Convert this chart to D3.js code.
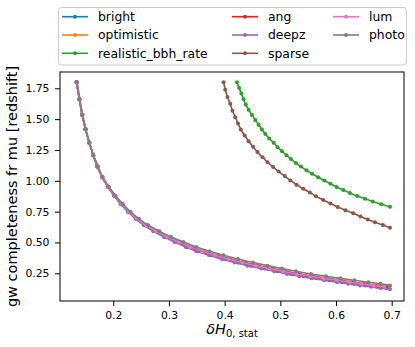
<!DOCTYPE html>
<html lang="en">
<head>
<meta charset="UTF-8">
<script src="https://cdn.jsdelivr.net/npm/d3@7"></script>
<title>gw completeness vs dH0</title>
<style>
    body { margin: 0; background: #fff; }
    svg { font-family: "DejaVu Sans", sans-serif; }
    .tick line { stroke: #000; stroke-width: 1; }
    .tick text { fill: #000; font-size: 10.8px; }
</style>
</head>
<body>
<svg id="chart" width="415" height="347"></svg>
<script>
    // redshift grid shared by the six overlapping series
    var bundleZ = [1.800, 1.662, 1.535, 1.417, 1.309, 1.208, 1.116, 1.030, 0.951, 0.878, 0.811, 0.749,
        0.692, 0.639, 0.590, 0.544, 0.503, 0.464, 0.429, 0.396, 0.365, 0.337, 0.312, 0.288,
        0.266, 0.245, 0.226, 0.209, 0.193, 0.178, 0.165, 0.152, 0.140, 0.130, 0.120];

    var brightX = [0.134, 0.139, 0.144, 0.150, 0.157, 0.164, 0.171, 0.180, 0.190, 0.202, 0.214, 0.227,
        0.241, 0.257, 0.274, 0.294, 0.313, 0.333, 0.353, 0.376, 0.400, 0.424, 0.447, 0.472,
        0.495, 0.519, 0.542, 0.565, 0.588, 0.611, 0.632, 0.653, 0.673, 0.690];
    var optimisticX = [0.134, 0.139, 0.144, 0.150, 0.157, 0.164, 0.172, 0.180, 0.191, 0.203, 0.216, 0.229,
        0.244, 0.260, 0.279, 0.299, 0.319, 0.341, 0.363, 0.387, 0.411, 0.437, 0.461, 0.486,
        0.511, 0.536, 0.561, 0.586, 0.610, 0.633, 0.655, 0.676, 0.696];
    var angX = [0.134, 0.139, 0.144, 0.150, 0.157, 0.164, 0.172, 0.180, 0.191, 0.203, 0.215, 0.228,
        0.243, 0.259, 0.278, 0.298, 0.318, 0.339, 0.361, 0.385, 0.409, 0.434, 0.458, 0.483,
        0.507, 0.532, 0.557, 0.581, 0.605, 0.628, 0.649, 0.670, 0.690];
    var deepzX = [0.135, 0.140, 0.145, 0.151, 0.157, 0.164, 0.171, 0.180, 0.190, 0.201, 0.213, 0.226,
        0.240, 0.255, 0.272, 0.291, 0.310, 0.330, 0.349, 0.372, 0.395, 0.418, 0.441, 0.466,
        0.489, 0.512, 0.534, 0.556, 0.579, 0.602, 0.622, 0.643, 0.663, 0.680, 0.697];
    var lumX = [0.134, 0.139, 0.144, 0.150, 0.157, 0.164, 0.172, 0.180, 0.191, 0.203, 0.215, 0.228,
        0.243, 0.259, 0.277, 0.297, 0.317, 0.338, 0.360, 0.383, 0.407, 0.432, 0.456, 0.481,
        0.505, 0.529, 0.554, 0.578, 0.602, 0.625, 0.646, 0.668, 0.687];
    var photoX = [0.134, 0.139, 0.144, 0.150, 0.157, 0.164, 0.172, 0.181, 0.192, 0.204, 0.217, 0.231,
        0.246, 0.263, 0.283, 0.304, 0.326, 0.349, 0.373, 0.398, 0.424, 0.451, 0.477, 0.503,
        0.528, 0.555, 0.582, 0.608, 0.633, 0.658, 0.680, 0.697];

    // the two series that sit apart on the right
    var realisticZ = [1.800, 1.753, 1.707, 1.662, 1.618, 1.576, 1.534, 1.494, 1.455, 1.416, 1.379, 1.343,
        1.308, 1.273, 1.240, 1.207, 1.176, 1.145, 1.115, 1.085, 1.057, 1.029, 1.002, 0.976,
        0.950, 0.925, 0.901, 0.877, 0.854, 0.832, 0.810, 0.789];
    var realisticX = [0.422, 0.426, 0.430, 0.434, 0.438, 0.443, 0.449, 0.455, 0.461, 0.467, 0.473, 0.480,
        0.488, 0.495, 0.503, 0.511, 0.519, 0.528, 0.537, 0.547, 0.557, 0.568, 0.579, 0.590,
        0.601, 0.613, 0.625, 0.638, 0.652, 0.666, 0.681, 0.697];
    var sparseZ = [1.800, 1.739, 1.680, 1.624, 1.569, 1.516, 1.465, 1.415, 1.367, 1.321, 1.276, 1.233,
        1.191, 1.151, 1.112, 1.075, 1.038, 1.003, 0.969, 0.936, 0.905, 0.874, 0.845, 0.816,
        0.788, 0.762, 0.736, 0.711, 0.687, 0.664, 0.641, 0.620];
    var sparseX = [0.398, 0.401, 0.405, 0.410, 0.414, 0.419, 0.424, 0.429, 0.436, 0.443, 0.451, 0.459,
        0.468, 0.477, 0.487, 0.497, 0.508, 0.518, 0.529, 0.541, 0.553, 0.564, 0.577, 0.590,
        0.603, 0.617, 0.631, 0.644, 0.657, 0.670, 0.684, 0.697];

    var seriesNames = ["bright", "optimistic", "realistic_bbh_rate", "ang", "deepz", "sparse", "lum", "photo"];
    var seriesColors = ["#1f77b4", "#ff7f0e", "#2ca02c", "#d62728", "#9467bd", "#8c564b", "#e377c2", "#7f7f7f"];
    var seriesX = [brightX, optimisticX, realisticX, angX, deepzX, sparseX, lumX, photoX];
    var seriesZ = [bundleZ, bundleZ, realisticZ, bundleZ, bundleZ, sparseZ, bundleZ, bundleZ];

    var xTicks = [0.2, 0.3, 0.4, 0.5, 0.6, 0.7];
    var yTicks = [0.25, 0.50, 0.75, 1.00, 1.25, 1.50, 1.75];

    // plot box (window.top is read-only, so no plain "top")
    var box = { left: 60, right: 404, top: 72, bottom: 301 };

    var svg = d3.select("#chart");

    var x = d3.scaleLinear().domain([0.1043, 0.7221]).range([box.left, box.right]);
    var y = d3.scaleLinear().domain([0.0254, 1.8822]).range([box.bottom, box.top]);

    // axes
    var gx = svg.append("g")
            .attr("transform", "translate(0," + box.bottom + ")")
            .call(d3.axisBottom(x).tickValues(xTicks).tickSize(5).tickPadding(5).tickFormat(d3.format(".1f")));
    var gy = svg.append("g")
            .attr("transform", "translate(" + box.left + ",0)")
            .call(d3.axisLeft(y).tickValues(yTicks).tickSize(5).tickPadding(5.5).tickFormat(d3.format(".2f")));
    gx.select(".domain").remove();
    gy.select(".domain").remove();
    gx.attr("font-family", null).attr("font-size", null);
    gy.attr("font-family", null).attr("font-size", null);

    // series lines with point markers
    var line = d3.line()
            .x(function(d) { return x(d[0]); })
            .y(function(d) { return y(d[1]); });

    seriesNames.forEach(function(name, i) {
        var pts = d3.zip(seriesX[i], seriesZ[i]);
        var g = svg.append("g").attr("class", "series");
        g.append("path")
                .datum(pts)
                .attr("d", line)
                .attr("fill", "none")
                .attr("stroke", seriesColors[i])
                .attr("stroke-width", 1.6)
                .attr("stroke-linejoin", "round");
        g.selectAll("circle")
                .data(pts)
                .enter()
                .append("circle")
                .attr("cx", function(d) { return x(d[0]); })
                .attr("cy", function(d) { return y(d[1]); })
                .attr("r", 2)
                .attr("fill", seriesColors[i]);
    });

    // frame
    svg.append("rect")
            .attr("x", box.left).attr("y", box.top)
            .attr("width", box.right - box.left).attr("height", box.bottom - box.top)
            .attr("fill", "none")
            .attr("stroke", "#000")
            .attr("stroke-width", 1);

    // axis labels
    svg.append("text")
            .attr("transform", "translate(17," + ((box.top + box.bottom) / 2) + ") rotate(-90)")
            .attr("text-anchor", "middle")
            .attr("font-size", "14.5px")
            .text("gw completeness fr mu [redshift]");

    var xl = svg.append("text")
            .attr("x", (box.left + box.right) / 2)
            .attr("y", 333.5)
            .attr("text-anchor", "middle")
            .attr("font-size", "14.5px");
    xl.append("tspan").attr("font-style", "italic").text("δH");
    xl.append("tspan").attr("font-size", "10px").attr("dy", 3.5).text("0, stat");

    // legend, three rows filled column by column
    var legend = svg.append("g");
    legend.append("rect")
            .attr("x", 58.5).attr("y", 7.5)
            .attr("width", 348).attr("height", 57.5)
            .attr("rx", 3)
            .attr("fill", "#fff")
            .attr("fill-opacity", 0.8)
            .attr("stroke", "#cccccc")
            .attr("stroke-width", 1);
    var colX = [62, 232, 333];
    var rowY = [16.7, 35, 53.3];
    seriesNames.forEach(function(name, i) {
        var cx = colX[Math.floor(i / 3)], cy = rowY[i % 3];
        var item = legend.append("g");
        item.append("line")
                .attr("x1", cx).attr("x2", cx + 26)
                .attr("y1", cy).attr("y2", cy)
                .attr("stroke", seriesColors[i])
                .attr("stroke-width", 1.6);
        item.append("circle")
                .attr("cx", cx + 13).attr("cy", cy)
                .attr("r", 2)
                .attr("fill", seriesColors[i]);
        item.append("text")
                .attr("x", cx + 36)
                .attr("y", cy)
                .attr("dy", "0.35em")
                .attr("font-size", "12.4px")
                .text(name);
    });
</script>
</body>
</html>
